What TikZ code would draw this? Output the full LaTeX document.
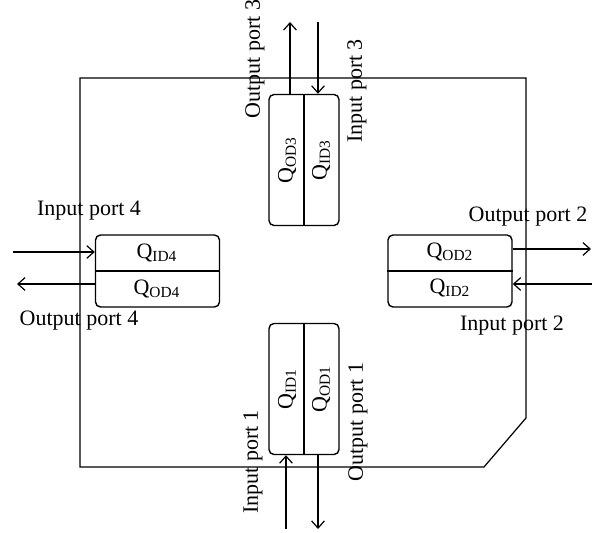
\documentclass[tikz,border=0pt]{standalone}
\usepackage{fontspec}
\setmainfont{Liberation Serif}
\usetikzlibrary{arrows.meta}

\begin{document}
\begin{tikzpicture}[x=.5pt,y=-.5pt,font=\fontsize{11}{13}\selectfont,line width=.6pt,
 ar/.style={-{Straight Barb[length=3.6pt,width=6.4pt]},line width=.6pt},
 qbox/.style={draw,rounded corners=2.5pt,inner sep=0pt,line width=.7pt},
 vbox/.style={qbox,minimum width=35pt,minimum height=65.5pt},
 hbox/.style={qbox,minimum width=62pt,minimum height=36pt},
 lab/.style={inner sep=0pt}]
\useasboundingbox (0,0) rectangle (600,533);
\draw (80,78) -- (526,78) -- (526,418) -- (484,467) -- (80,467) -- cycle;
% queue boxes
\node[vbox] (b3) at (304,160) {};
\node[vbox] (b1) at (304,389) {};
\node[hbox] (b4) at (157.5,271) {};
\node[hbox] (b2) at (450,271) {};
\draw (b3.north) -- (b3.south);
\draw (b1.north) -- (b1.south);
\draw (b4.west) -- (b4.east);
\draw (b2.west) -- (b2.east);
\node[lab,rotate=90] (qod3) at (287,160) {Q\textsubscript{OD3}};
\node[lab,rotate=90] (qid3) at (321,160) {Q\textsubscript{ID3}};
\node[lab,rotate=90] (qid1) at (287,389) {Q\textsubscript{ID1}};
\node[lab,rotate=90] (qod1) at (321,389) {Q\textsubscript{OD1}};
\node[lab] (qid4) at (157,253) {Q\textsubscript{ID4}};
\node[lab] (qod4) at (157,289) {Q\textsubscript{OD4}};
\node[lab] (qod2) at (450,252) {Q\textsubscript{OD2}};
\node[lab] (qid2) at (450,288) {Q\textsubscript{ID2}};
% port ends
\coordinate (o3) at (290,22);
\coordinate (i3) at (318,22);
\coordinate (i1) at (286,529);
\coordinate (o1) at (318,529);
\coordinate (i4) at (13,252);
\coordinate (o4) at (17,284);
\coordinate (o2) at (591,249);
\coordinate (i2) at (592,284);
\draw[ar] (b3.north -| o3) -- (o3);
\draw[ar] (i3) -- (b3.north -| i3);
\draw[ar] (i1) -- (b1.south -| i1);
\draw[ar] (b1.south -| o1) -- (o1);
\draw[ar] (i4) -- (b4.west |- i4);
\draw[ar] (b4.west |- o4) -- (o4);
\draw[ar] (b2.east |- o2) -- (o2);
\draw[ar] (i2) -- (b2.east |- i2);
% port labels
\node[lab,rotate=90] (lo3) at (255,59) {Output port 3};
\node[lab,rotate=90] (li3) at (357,91) {Input port 3};
\node[lab,rotate=90] (li1) at (253,462) {Input port 1};
\node[lab,rotate=90] (lo1) at (358,422) {Output port 1};
\node[lab] (li4) at (89,211) {Input port 4};
\node[lab] (lo4) at (79,321) {Output port 4};
\node[lab] (lo2) at (528,217) {Output port 2};
\node[lab] (li2) at (512,326) {Input port 2};
\end{tikzpicture}
\end{document}
